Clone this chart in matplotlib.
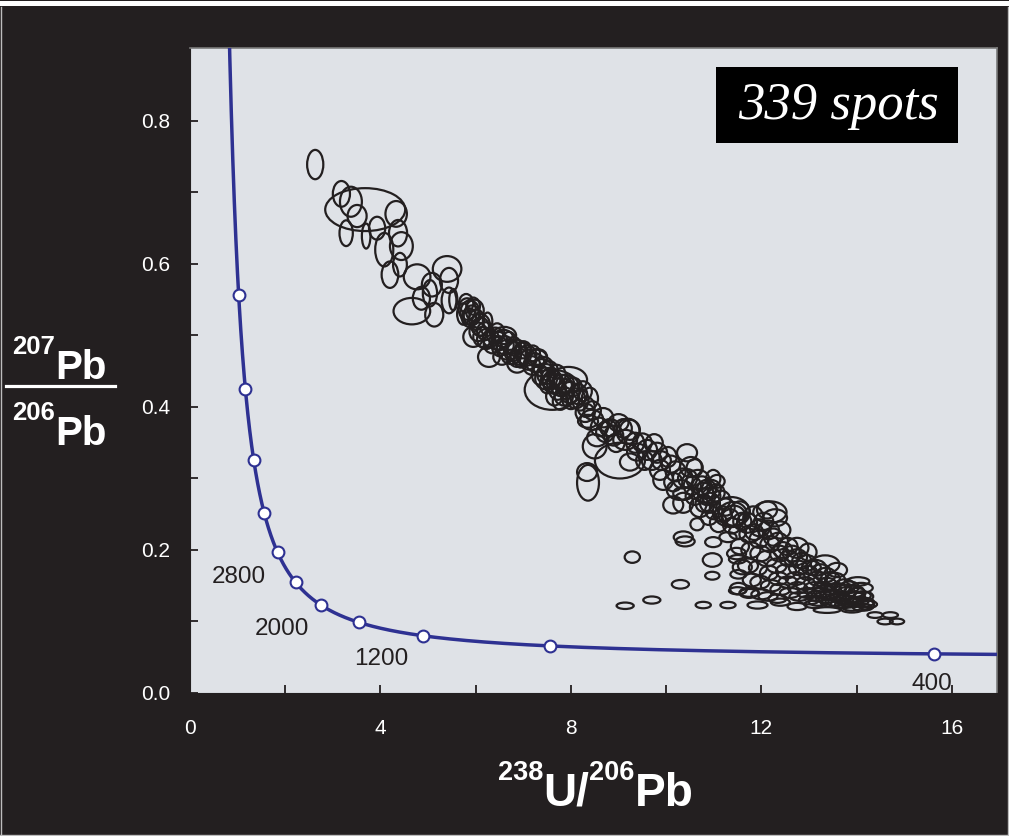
import numpy as np
import matplotlib
matplotlib.use("Agg")
import matplotlib.pyplot as plt
from matplotlib.patches import Ellipse, Rectangle
from matplotlib.lines import Line2D

plt.rcParams["font.family"] = ["Liberation Sans", "DejaVu Sans"]

# ---------------------------------------------------------------------------
# Spot analyses: (238U/206Pb, 207Pb/206Pb, full width in x, full height in y)
# ---------------------------------------------------------------------------
spots_old = [
    (2.63, 0.739, 0.34, 0.041), (3.68, 0.676, 1.68, 0.060), (3.18, 0.698, 0.36, 0.036),
    (3.38, 0.687, 0.46, 0.042), (3.51, 0.667, 0.40, 0.031), (3.28, 0.643, 0.28, 0.036),
    (3.70, 0.639, 0.18, 0.035), (3.93, 0.650, 0.34, 0.032), (4.33, 0.670, 0.45, 0.036),
    (4.37, 0.643, 0.38, 0.037), (4.08, 0.620, 0.38, 0.047), (4.44, 0.625, 0.48, 0.039),
    (4.20, 0.585, 0.35, 0.037), (4.41, 0.599, 0.29, 0.033), (4.77, 0.582, 0.56, 0.035),
    (5.40, 0.593, 0.60, 0.036), (4.66, 0.534, 0.77, 0.037), (5.08, 0.571, 0.42, 0.033),
    (4.86, 0.552, 0.36, 0.032), (5.13, 0.529, 0.38, 0.033), (5.44, 0.577, 0.38, 0.035),
    (5.44, 0.549, 0.31, 0.036), (5.53, 0.550, 0.17, 0.030), (5.04, 0.559, 0.30, 0.037),
]

spots_cluster = [
    (5.82, 0.537, 0.36, 0.030), (5.88, 0.532, 0.40, 0.034), (5.92, 0.528, 0.34, 0.028),
    (5.86, 0.525, 0.30, 0.026), (5.98, 0.535, 0.38, 0.030), (5.80, 0.545, 0.30, 0.026),
    (6.02, 0.522, 0.32, 0.028), (5.95, 0.541, 0.28, 0.024), (6.10, 0.515, 0.40, 0.030),
    (5.74, 0.530, 0.26, 0.030),
]

spots_mid = [
    (5.95, 0.498, 0.42, 0.028), (6.28, 0.470, 0.46, 0.028), (6.20, 0.506, 0.34, 0.025),
    (6.25, 0.520, 0.20, 0.024), (6.41, 0.500, 0.34, 0.022), (6.58, 0.496, 0.42, 0.024),
    (6.70, 0.490, 0.32, 0.030), (6.68, 0.480, 0.48, 0.028), (6.87, 0.475, 0.42, 0.038),
    (7.00, 0.475, 0.34, 0.030), (7.10, 0.466, 0.34, 0.028), (7.30, 0.470, 0.40, 0.022),
    (7.42, 0.456, 0.42, 0.028), (7.35, 0.445, 0.34, 0.028), (6.22, 0.495, 0.38, 0.028),
    (6.75, 0.470, 0.40, 0.020), (6.60, 0.500, 0.50, 0.024), (6.87, 0.462, 0.42, 0.028),
    (7.00, 0.480, 0.34, 0.024), (7.29, 0.468, 0.42, 0.024), (7.40, 0.455, 0.40, 0.024),
    (6.10, 0.512, 0.36, 0.026), (6.35, 0.488, 0.36, 0.026), (6.50, 0.485, 0.32, 0.028),
    (6.45, 0.505, 0.30, 0.024), (6.95, 0.468, 0.30, 0.026), (7.18, 0.458, 0.36, 0.026),
    (7.20, 0.475, 0.30, 0.022), (6.80, 0.485, 0.30, 0.026), (6.55, 0.470, 0.36, 0.022),
    (6.05, 0.505, 0.36, 0.026), (6.15, 0.498, 0.40, 0.028), (6.32, 0.496, 0.34, 0.024),
    (6.48, 0.492, 0.38, 0.026), (6.62, 0.486, 0.36, 0.026), (6.78, 0.478, 0.36, 0.028),
    (6.92, 0.472, 0.38, 0.026), (7.08, 0.472, 0.40, 0.028), (7.25, 0.462, 0.38, 0.026),
]

spots_800 = [
    (7.61, 0.424, 1.16, 0.056), (7.95, 0.438, 0.78, 0.036), (7.45, 0.440, 0.40, 0.030),
    (7.55, 0.450, 0.36, 0.028), (7.62, 0.435, 0.42, 0.032), (7.70, 0.445, 0.38, 0.028),
    (7.72, 0.425, 0.36, 0.030), (7.80, 0.430, 0.44, 0.030), (7.85, 0.415, 0.38, 0.026),
    (7.90, 0.425, 0.32, 0.028), (7.98, 0.420, 0.40, 0.030), (8.05, 0.428, 0.36, 0.026),
    (8.10, 0.412, 0.40, 0.028), (8.20, 0.410, 0.34, 0.030), (8.25, 0.422, 0.38, 0.028),
    (7.65, 0.415, 0.34, 0.026), (8.32, 0.400, 0.36, 0.028), (8.40, 0.412, 0.34, 0.030),
    (7.50, 0.432, 0.30, 0.026), (7.78, 0.408, 0.32, 0.024), (7.48, 0.446, 0.38, 0.028),
    (7.58, 0.440, 0.40, 0.030), (7.68, 0.432, 0.36, 0.028), (7.88, 0.432, 0.38, 0.026),
    (8.00, 0.410, 0.36, 0.026), (8.15, 0.418, 0.38, 0.028),
]

spots_700 = [
    (8.44, 0.382, 0.48, 0.028), (8.68, 0.385, 0.42, 0.027), (8.36, 0.380, 0.42, 0.018),
    (8.50, 0.345, 0.50, 0.034), (8.55, 0.357, 0.42, 0.024), (8.82, 0.371, 0.42, 0.024),
    (9.00, 0.378, 0.42, 0.024), (9.14, 0.354, 0.50, 0.028), (9.24, 0.368, 0.42, 0.028),
    (9.39, 0.337, 0.42, 0.024), (9.03, 0.325, 1.05, 0.050), (9.24, 0.323, 0.42, 0.024),
    (9.20, 0.366, 0.48, 0.035), (8.34, 0.309, 0.42, 0.025), (8.36, 0.294, 0.46, 0.050),
    (8.30, 0.392, 0.40, 0.026), (8.60, 0.372, 0.36, 0.026), (8.90, 0.360, 0.40, 0.028),
    (8.80, 0.370, 0.34, 0.022), (8.45, 0.395, 0.36, 0.026), (8.72, 0.365, 0.38, 0.028),
    (8.95, 0.350, 0.36, 0.026), (9.10, 0.370, 0.36, 0.026), (9.35, 0.350, 0.38, 0.028),
]

spots_600 = [
    (9.60, 0.340, 0.42, 0.028), (9.81, 0.336, 0.42, 0.028), (10.04, 0.330, 0.36, 0.028),
    (10.44, 0.336, 0.42, 0.024), (10.52, 0.316, 0.46, 0.028), (9.87, 0.312, 0.42, 0.028),
    (9.94, 0.298, 0.42, 0.028), (10.20, 0.310, 0.42, 0.028), (10.29, 0.284, 0.55, 0.028),
    (10.67, 0.298, 0.48, 0.028), (10.78, 0.280, 0.42, 0.028), (10.36, 0.266, 0.42, 0.028),
    (10.15, 0.263, 0.42, 0.024), (10.92, 0.266, 0.42, 0.028), (10.99, 0.300, 0.30, 0.024),
    (9.50, 0.350, 0.40, 0.026), (9.70, 0.325, 0.42, 0.026), (10.10, 0.320, 0.40, 0.024),
    (10.35, 0.300, 0.42, 0.028), (10.85, 0.285, 0.40, 0.026), (10.95, 0.275, 0.38, 0.024),
    (10.55, 0.290, 0.36, 0.026), (9.75, 0.350, 0.36, 0.024), (9.55, 0.325, 0.36, 0.026),
    (9.90, 0.325, 0.40, 0.026), (10.15, 0.295, 0.38, 0.026), (10.45, 0.300, 0.40, 0.026),
]

spots_500 = [
    (10.60, 0.315, 0.34, 0.024), (10.75, 0.290, 0.40, 0.026), (10.95, 0.285, 0.40, 0.026),
    (10.85, 0.275, 0.36, 0.024), (11.07, 0.296, 0.32, 0.018), (10.36, 0.279, 0.42, 0.018),
    (10.71, 0.260, 0.42, 0.028), (11.37, 0.253, 0.78, 0.042), (11.40, 0.250, 0.60, 0.034),
    (11.42, 0.248, 0.48, 0.028), (11.35, 0.245, 0.36, 0.024), (10.65, 0.236, 0.28, 0.017),
    (11.10, 0.238, 0.36, 0.026), (11.38, 0.234, 0.36, 0.022), (11.30, 0.218, 0.36, 0.014),
    (12.18, 0.253, 0.70, 0.030), (12.12, 0.256, 0.42, 0.024), (11.83, 0.245, 0.42, 0.032),
    (11.70, 0.238, 0.42, 0.028), (11.97, 0.231, 0.42, 0.024), (12.29, 0.245, 0.50, 0.024),
    (11.15, 0.270, 0.40, 0.026), (11.25, 0.260, 0.38, 0.024), (11.55, 0.255, 0.40, 0.026),
    (11.60, 0.240, 0.38, 0.024), (11.20, 0.250, 0.36, 0.022), (11.00, 0.255, 0.36, 0.024),
    (10.90, 0.245, 0.34, 0.020), (11.50, 0.225, 0.36, 0.020), (11.85, 0.225, 0.38, 0.022),
    (10.60, 0.275, 0.38, 0.024), (10.80, 0.265, 0.36, 0.024), (11.05, 0.280, 0.36, 0.024),
]

spots_young = [
    (11.55, 0.205, 0.38, 0.022), (11.60, 0.176, 0.40, 0.020), (11.52, 0.146, 0.36, 0.016),
    (11.75, 0.222, 0.42, 0.024), (11.78, 0.200, 0.40, 0.022), (11.72, 0.178, 0.42, 0.020),
    (11.80, 0.158, 0.38, 0.018), (11.74, 0.140, 0.40, 0.014), (11.95, 0.215, 0.40, 0.024),
    (11.98, 0.195, 0.42, 0.022), (11.93, 0.175, 0.38, 0.020), (11.97, 0.155, 0.40, 0.018),
    (12.00, 0.138, 0.42, 0.014), (12.15, 0.228, 0.44, 0.026), (12.18, 0.208, 0.40, 0.022),
    (12.12, 0.188, 0.42, 0.022), (12.16, 0.168, 0.38, 0.020), (12.20, 0.150, 0.42, 0.016),
    (12.14, 0.135, 0.40, 0.012), (12.35, 0.212, 0.42, 0.024), (12.38, 0.195, 0.40, 0.022),
    (12.32, 0.178, 0.42, 0.020), (12.36, 0.160, 0.40, 0.018), (12.40, 0.145, 0.42, 0.016),
    (12.34, 0.132, 0.38, 0.012), (12.55, 0.205, 0.42, 0.024), (12.58, 0.188, 0.40, 0.022),
    (12.52, 0.170, 0.42, 0.020), (12.56, 0.155, 0.40, 0.016), (12.60, 0.140, 0.42, 0.014),
    (12.75, 0.190, 0.42, 0.022), (12.78, 0.175, 0.40, 0.020), (12.72, 0.160, 0.42, 0.018),
    (12.76, 0.147, 0.40, 0.016), (12.80, 0.135, 0.42, 0.012), (12.95, 0.182, 0.42, 0.022),
    (12.98, 0.168, 0.40, 0.020), (12.92, 0.153, 0.42, 0.018), (12.96, 0.140, 0.40, 0.014),
    (13.00, 0.130, 0.42, 0.012), (13.15, 0.175, 0.42, 0.022), (13.18, 0.160, 0.40, 0.020),
    (13.12, 0.147, 0.44, 0.016), (13.16, 0.136, 0.40, 0.014), (13.20, 0.128, 0.42, 0.012),
    (13.35, 0.165, 0.42, 0.020), (13.38, 0.152, 0.40, 0.018), (13.32, 0.142, 0.44, 0.016),
    (13.36, 0.132, 0.42, 0.012), (13.55, 0.158, 0.42, 0.020), (13.58, 0.146, 0.40, 0.016),
    (13.52, 0.136, 0.44, 0.014), (13.56, 0.128, 0.42, 0.012), (13.75, 0.150, 0.42, 0.018),
    (13.78, 0.140, 0.40, 0.016), (13.72, 0.131, 0.44, 0.012), (13.76, 0.124, 0.42, 0.010),
    (13.95, 0.142, 0.42, 0.016), (13.98, 0.134, 0.40, 0.014), (13.92, 0.126, 0.44, 0.012),
    (14.15, 0.135, 0.40, 0.014), (14.18, 0.127, 0.38, 0.012), (14.12, 0.120, 0.40, 0.010),
    (13.25, 0.140, 0.40, 0.014), (13.45, 0.138, 0.42, 0.014), (13.65, 0.135, 0.40, 0.012),
    (13.85, 0.130, 0.42, 0.012), (14.05, 0.128, 0.40, 0.012), (13.45, 0.126, 0.40, 0.010),
    (13.65, 0.124, 0.40, 0.010), (13.90, 0.120, 0.40, 0.010), (14.25, 0.124, 0.36, 0.010),
    (13.10, 0.124, 0.40, 0.010), (13.30, 0.148, 0.40, 0.014), (13.70, 0.145, 0.40, 0.014),
    (12.40, 0.228, 0.42, 0.024), (12.75, 0.203, 0.48, 0.028), (12.98, 0.197, 0.36, 0.024),
    (13.34, 0.180, 0.60, 0.025), (13.59, 0.172, 0.42, 0.020), (14.03, 0.156, 0.48, 0.012),
    (14.10, 0.147, 0.48, 0.014), (14.12, 0.136, 0.36, 0.012), (14.22, 0.123, 0.30, 0.014),
    (12.05, 0.240, 0.40, 0.024), (12.25, 0.218, 0.40, 0.024), (12.45, 0.200, 0.40, 0.022),
    (12.65, 0.195, 0.40, 0.022), (12.85, 0.185, 0.40, 0.022), (13.05, 0.175, 0.40, 0.020),
    (13.25, 0.170, 0.40, 0.020), (13.45, 0.160, 0.40, 0.018), (13.85, 0.148, 0.40, 0.016),
    (14.00, 0.140, 0.38, 0.014),
]

spots_low = [
    (9.29, 0.190, 0.32, 0.016), (9.14, 0.122, 0.36, 0.009), (9.70, 0.130, 0.36, 0.010),
    (10.30, 0.152, 0.36, 0.012), (10.36, 0.218, 0.40, 0.016), (10.40, 0.212, 0.40, 0.014),
    (10.78, 0.123, 0.32, 0.009), (10.97, 0.186, 0.40, 0.019), (10.99, 0.211, 0.34, 0.014),
    (10.97, 0.164, 0.30, 0.011), (11.30, 0.123, 0.32, 0.009), (11.48, 0.195, 0.40, 0.016),
    (11.50, 0.187, 0.36, 0.012), (11.52, 0.166, 0.34, 0.012), (11.92, 0.123, 0.42, 0.010),
    (12.40, 0.127, 0.40, 0.010), (12.75, 0.121, 0.40, 0.010), (13.38, 0.116, 0.56, 0.008),
    (13.90, 0.117, 0.45, 0.009), (14.39, 0.109, 0.32, 0.008), (14.71, 0.109, 0.32, 0.008),
    (14.60, 0.100, 0.32, 0.008), (14.85, 0.100, 0.30, 0.008), (11.50, 0.143, 0.36, 0.010),
    (11.75, 0.140, 0.40, 0.011),
]

# Concordia age marks (Ma) and the ones that carry a label
marker_ages = [400, 800, 1200, 1600, 2000, 2400, 2800, 3200, 3600, 4000, 4400]
label_ages = [400, 1200, 2000, 2800]
label_offsets = [(-1.5, -21.5), (-29.5, -16.6), (-28.0, -17.3), (-27.7, -17.8)]

x_ticks = [0, 2, 4, 6, 8, 10, 12, 14, 16]
x_ticklabels = ["0", "", "4", "", "8", "", "12", "", "16"]
y_ticks = [0.0, 0.1, 0.2, 0.3, 0.4, 0.5, 0.6, 0.7, 0.8]
y_ticklabels = ["0.0", "", "0.2", "", "0.4", "", "0.6", "", "0.8"]

# Decay constants (1/yr) and present-day 238U/235U
LAMBDA_238 = 1.55125e-10
LAMBDA_235 = 9.8485e-10
U238_U235 = 137.88


def tera_wasserburg(age_yr):
    age_yr = np.asarray(age_yr, dtype=float)
    e238 = np.expm1(LAMBDA_238 * age_yr)
    e235 = np.expm1(LAMBDA_235 * age_yr)
    return 1.0 / e238, e235 / e238 / U238_U235


BG = "#231f20"
PANEL = "#dfe2e7"
BLUE = "#2e3192"
W, H = 1009, 836

fig = plt.figure(figsize=(W / 100, H / 100), dpi=100, facecolor=BG)
ax = fig.add_axes([190 / W, 143 / H, 807 / W, 645 / H])
ax.set_facecolor(PANEL)
ax.set_xlim(0, 16.95)
ax.set_ylim(0, 0.902)

# concordia curve
t_curve = np.linspace(3.3e8, 5.4e9, 3000)
cx, cy = tera_wasserburg(t_curve)
ax.plot(cx, cy, color=BLUE, lw=2.5, zorder=4, solid_capstyle="butt")
mx, my = tera_wasserburg(np.array(marker_ages) * 1e6)
ax.plot(mx, my, ls="none", marker="o", ms=8.5, mfc="white", mec=BLUE, mew=1.5, zorder=5)

for age, (dx, dy) in zip(label_ages, label_offsets):
    px, py = tera_wasserburg(age * 1e6)
    ax.annotate(str(age), xy=(px, py), xytext=(dx, dy), textcoords="offset points",
                ha="center", va="center", fontsize=17.5, color=BG, clip_on=True,
                zorder=6)

# spot error ellipses
all_spots = (spots_old + spots_cluster + spots_mid + spots_800 + spots_700
             + spots_600 + spots_500 + spots_young + spots_low)
for ux, py_, wx, hy in all_spots:
    ax.add_patch(Ellipse((ux, py_), wx, hy, fill=False, ec=BG, lw=1.6, zorder=3))

# axes styling
ax.set_xticks(x_ticks)
ax.set_xticklabels(x_ticklabels)
ax.set_yticks(y_ticks)
ax.set_yticklabels(y_ticklabels)
ax.tick_params(direction="in", length=6, width=1.3, color=BG, labelcolor="white",
               labelsize=15)
ax.tick_params(axis="x", pad=19)
ax.tick_params(axis="y", pad=14)
for side in ("left", "bottom"):
    ax.spines[side].set_color(BG)
for side in ("top", "right"):
    ax.spines[side].set_color("#7a7a7a")
    ax.spines[side].set_linewidth(1.2)

# frame decorations around the figure
fig.add_artist(Rectangle((0, (H - 6) / H), 1, 5 / H, transform=fig.transFigure,
                         facecolor="white", edgecolor="none"))
fig.add_artist(Line2D([0.5 / W, 0.5 / W], [0, (H - 7) / H], transform=fig.transFigure,
                      color="#bdbdbd", lw=1))
fig.add_artist(Line2D([(W - 1.5) / W, (W - 1.5) / W], [0, (H - 7) / H],
                      transform=fig.transFigure, color="#bdbdbd", lw=1))
fig.add_artist(Line2D([0, 1], [1.0 / H, 1.0 / H], transform=fig.transFigure,
                      color="#bdbdbd", lw=1))

# spot count box
fig.add_artist(Rectangle((716 / W, 1 - 143 / H), 242 / W, 76 / H,
                         transform=fig.transFigure, facecolor="black",
                         edgecolor="none", zorder=10))
fig.text(838 / W, 1 - 106 / H, "339 spots", ha="center", va="center",
         fontsize=38, color="white", family="Liberation Serif", style="italic",
         zorder=11)

# isotope-ratio axis titles, drawn piece by piece
renderer = fig.canvas.get_renderer()


def isotope_label(parts, x0, baseline):
    x = x0
    for text, size, rise in parts:
        t = fig.text(x / W, 1 - (baseline - rise) / H, text, fontsize=size,
                     fontweight="bold", color="white", ha="left", va="baseline")
        x = t.get_window_extent(renderer).x1
    return x


isotope_label([("207", 18.5, 25), ("Pb", 29, 0)], 12, 379)
isotope_label([("206", 18.5, 25), ("Pb", 29, 0)], 12, 445)
fig.add_artist(Line2D([6 / W, 115 / W], [1 - 385.5 / H, 1 - 385.5 / H],
                      transform=fig.transFigure, color="white", lw=2.3))

isotope_label([("238", 19.5, 26), ("U/", 33, 0), ("206", 19.5, 26), ("Pb", 33, 0)],
              498, 806)

fig.savefig("out.png", dpi=100, facecolor=BG)
